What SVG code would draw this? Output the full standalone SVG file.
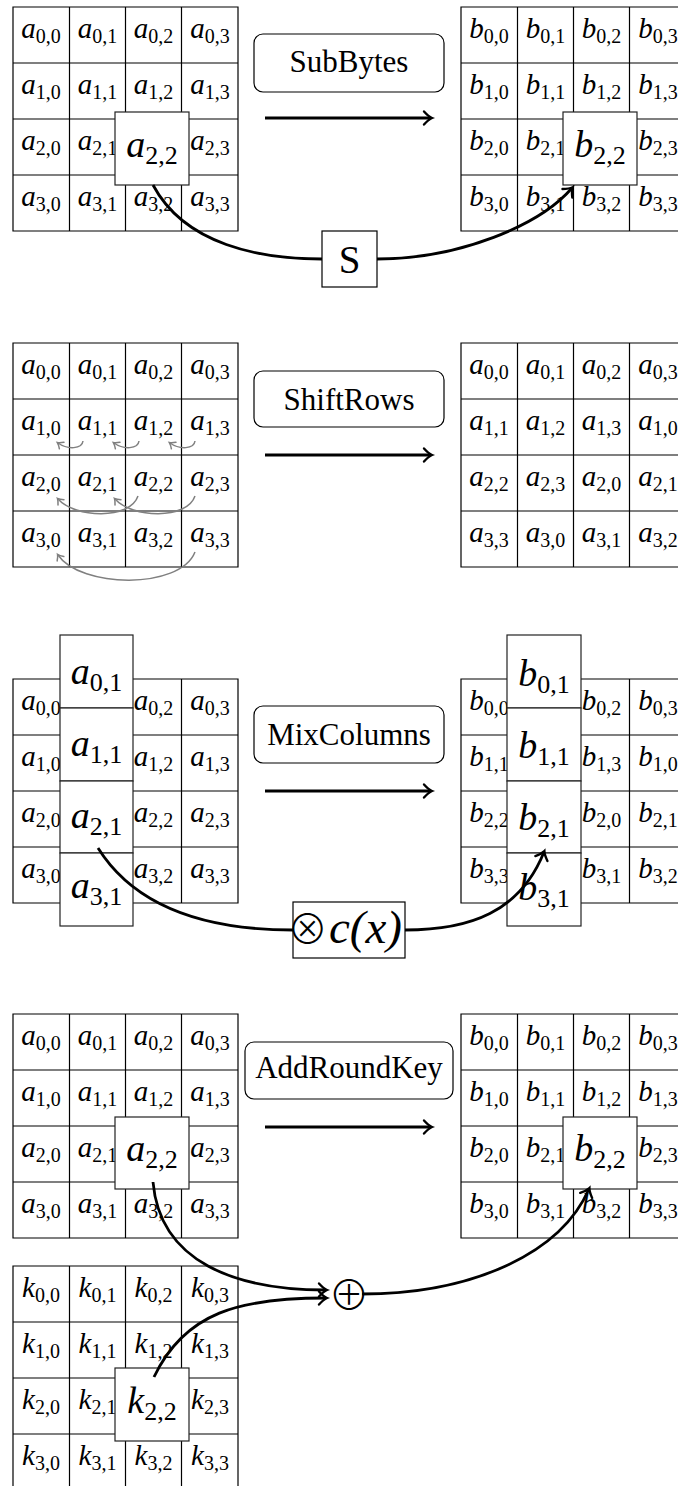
<svg xmlns="http://www.w3.org/2000/svg" xmlns:xlink="http://www.w3.org/1999/xlink" width="678" height="1486" viewBox="0 0 678 1486">
<style>
.g{fill:none;stroke:#000;stroke-width:1.2}
.v{font-family:"Liberation Serif","DejaVu Serif",serif;font-style:italic;font-size:29px;text-anchor:middle;fill:#000}
.v .s{font-style:normal;font-size:20px}
.V{font-family:"Liberation Serif","DejaVu Serif",serif;font-style:italic;font-size:38px;text-anchor:middle;fill:#000}
.V .s{font-style:normal;font-size:26px}
.bx{fill:#fff;stroke:#222;stroke-width:1.2}
.lb{fill:#fff;stroke:#000;stroke-width:1.2}
.lt{font-family:"Liberation Serif","DejaVu Serif",serif;font-size:31px;text-anchor:middle;fill:#000}
.op{font-family:"Noto Sans CJK JP","DejaVu Sans",sans-serif;font-weight:300;text-anchor:middle;fill:#000}
.c{fill:none;stroke:#000;stroke-width:2.8}
.ar{fill:none;stroke:#000;stroke-width:3}
.gr{fill:none;stroke:#808080;stroke-width:1.5}
</style>
<defs>
<path id="grid" d="M0,0H225V224H0Z M56.5,0V224 M112.5,0V224 M168.5,0V224 M0,56H225 M0,112H225 M0,168H225"/>
<marker id="ah" viewBox="-10 -10 20 20" markerWidth="20" markerHeight="20" refX="0" refY="0" orient="auto" markerUnits="userSpaceOnUse" overflow="visible">
<path d="M-7,-6.5 Q-2.5,-1.5 1,0 Q-2.5,1.5 -7,6.5" fill="none" stroke="#000" stroke-width="2.4" stroke-linecap="round"/>
</marker>
<marker id="gh" viewBox="-10 -10 20 20" markerWidth="20" markerHeight="20" refX="0" refY="0" orient="auto" markerUnits="userSpaceOnUse" overflow="visible">
<path d="M-4.5,-4 Q-1.5,-1 0.8,0 Q-1.5,1 -4.5,4" fill="none" stroke="#808080" stroke-width="1.5" stroke-linecap="round"/>
</marker>
</defs>
<rect width="678" height="1486" fill="#fff"/>

<!-- ===== SubBytes ===== -->
<g id="sb-left" transform="translate(13,7)">
<use href="#grid" class="g"/>
<g class="v">
<text x="28" y="30.5">a<tspan class="s" dy="5">0,0</tspan></text>
<text x="84.5" y="30.5">a<tspan class="s" dy="5">0,1</tspan></text>
<text x="140.5" y="30.5">a<tspan class="s" dy="5">0,2</tspan></text>
<text x="197" y="30.5">a<tspan class="s" dy="5">0,3</tspan></text>
<text x="28" y="86.5">a<tspan class="s" dy="5">1,0</tspan></text>
<text x="84.5" y="86.5">a<tspan class="s" dy="5">1,1</tspan></text>
<text x="140.5" y="86.5">a<tspan class="s" dy="5">1,2</tspan></text>
<text x="197" y="86.5">a<tspan class="s" dy="5">1,3</tspan></text>
<text x="28" y="142.5">a<tspan class="s" dy="5">2,0</tspan></text>
<text x="84.5" y="142.5">a<tspan class="s" dy="5">2,1</tspan></text>
<text x="197" y="142.5">a<tspan class="s" dy="5">2,3</tspan></text>
<text x="28" y="198.5">a<tspan class="s" dy="5">3,0</tspan></text>
<text x="84.5" y="198.5">a<tspan class="s" dy="5">3,1</tspan></text>
<text x="140.5" y="198.5">a<tspan class="s" dy="5">3,2</tspan></text>
<text x="197" y="198.5">a<tspan class="s" dy="5">3,3</tspan></text>
</g>
<g id="sb-a22"><rect class="bx" x="102" y="105" width="74" height="73"/>
<text class="V" x="139" y="149.5">a<tspan class="s" dy="7">2,2</tspan></text></g>
</g>
<g id="sb-right" transform="translate(461,7)">
<use href="#grid" class="g"/>
<g class="v">
<text x="28" y="30.5">b<tspan class="s" dy="5">0,0</tspan></text>
<text x="84.5" y="30.5">b<tspan class="s" dy="5">0,1</tspan></text>
<text x="140.5" y="30.5">b<tspan class="s" dy="5">0,2</tspan></text>
<text x="197" y="30.5">b<tspan class="s" dy="5">0,3</tspan></text>
<text x="28" y="86.5">b<tspan class="s" dy="5">1,0</tspan></text>
<text x="84.5" y="86.5">b<tspan class="s" dy="5">1,1</tspan></text>
<text x="140.5" y="86.5">b<tspan class="s" dy="5">1,2</tspan></text>
<text x="197" y="86.5">b<tspan class="s" dy="5">1,3</tspan></text>
<text x="28" y="142.5">b<tspan class="s" dy="5">2,0</tspan></text>
<text x="84.5" y="142.5">b<tspan class="s" dy="5">2,1</tspan></text>
<text x="197" y="142.5">b<tspan class="s" dy="5">2,3</tspan></text>
<text x="28" y="198.5">b<tspan class="s" dy="5">3,0</tspan></text>
<text x="84.5" y="198.5">b<tspan class="s" dy="5">3,1</tspan></text>
<text x="140.5" y="198.5">b<tspan class="s" dy="5">3,2</tspan></text>
<text x="197" y="198.5">b<tspan class="s" dy="5">3,3</tspan></text>
</g>
<g id="sb-b22"><rect class="bx" x="102" y="105" width="74" height="73"/>
<text class="V" x="139" y="149.5">b<tspan class="s" dy="7">2,2</tspan></text></g>
</g>
<g id="sb-label"><rect class="lb" x="254" y="34" width="190" height="58" rx="9"/>
<text class="lt" x="349" y="72">SubBytes</text></g>
<g id="sb-S"><rect class="lb" x="322" y="231" width="55" height="56"/>
<text class="lt" x="349.5" y="273" style="font-size:39px">S</text></g>

<!-- ===== ShiftRows ===== -->
<g id="sr-left" transform="translate(13,343)">
<use href="#grid" class="g"/>
<g class="v">
<text x="28" y="30.5">a<tspan class="s" dy="5">0,0</tspan></text>
<text x="84.5" y="30.5">a<tspan class="s" dy="5">0,1</tspan></text>
<text x="140.5" y="30.5">a<tspan class="s" dy="5">0,2</tspan></text>
<text x="197" y="30.5">a<tspan class="s" dy="5">0,3</tspan></text>
<text x="28" y="86.5">a<tspan class="s" dy="5">1,0</tspan></text>
<text x="84.5" y="86.5">a<tspan class="s" dy="5">1,1</tspan></text>
<text x="140.5" y="86.5">a<tspan class="s" dy="5">1,2</tspan></text>
<text x="197" y="86.5">a<tspan class="s" dy="5">1,3</tspan></text>
<text x="28" y="142.5">a<tspan class="s" dy="5">2,0</tspan></text>
<text x="84.5" y="142.5">a<tspan class="s" dy="5">2,1</tspan></text>
<text x="140.5" y="142.5">a<tspan class="s" dy="5">2,2</tspan></text>
<text x="197" y="142.5">a<tspan class="s" dy="5">2,3</tspan></text>
<text x="28" y="198.5">a<tspan class="s" dy="5">3,0</tspan></text>
<text x="84.5" y="198.5">a<tspan class="s" dy="5">3,1</tspan></text>
<text x="140.5" y="198.5">a<tspan class="s" dy="5">3,2</tspan></text>
<text x="197" y="198.5">a<tspan class="s" dy="5">3,3</tspan></text>
</g>
</g>
<g id="sr-right" transform="translate(461,343)">
<use href="#grid" class="g"/>
<g class="v">
<text x="28" y="30.5">a<tspan class="s" dy="5">0,0</tspan></text>
<text x="84.5" y="30.5">a<tspan class="s" dy="5">0,1</tspan></text>
<text x="140.5" y="30.5">a<tspan class="s" dy="5">0,2</tspan></text>
<text x="197" y="30.5">a<tspan class="s" dy="5">0,3</tspan></text>
<text x="28" y="86.5">a<tspan class="s" dy="5">1,1</tspan></text>
<text x="84.5" y="86.5">a<tspan class="s" dy="5">1,2</tspan></text>
<text x="140.5" y="86.5">a<tspan class="s" dy="5">1,3</tspan></text>
<text x="197" y="86.5">a<tspan class="s" dy="5">1,0</tspan></text>
<text x="28" y="142.5">a<tspan class="s" dy="5">2,2</tspan></text>
<text x="84.5" y="142.5">a<tspan class="s" dy="5">2,3</tspan></text>
<text x="140.5" y="142.5">a<tspan class="s" dy="5">2,0</tspan></text>
<text x="197" y="142.5">a<tspan class="s" dy="5">2,1</tspan></text>
<text x="28" y="198.5">a<tspan class="s" dy="5">3,3</tspan></text>
<text x="84.5" y="198.5">a<tspan class="s" dy="5">3,0</tspan></text>
<text x="140.5" y="198.5">a<tspan class="s" dy="5">3,1</tspan></text>
<text x="197" y="198.5">a<tspan class="s" dy="5">3,2</tspan></text>
</g>
</g>
<g id="sr-label"><rect class="lb" x="254" y="371" width="190" height="56" rx="9"/>
<text class="lt" x="349" y="409.5">ShiftRows</text></g>

<!-- ===== MixColumns ===== -->
<g id="mc-left" transform="translate(13,679)">
<use href="#grid" class="g"/>
<g class="v">
<text x="28" y="30.5">a<tspan class="s" dy="5">0,0</tspan></text>
<text x="140.5" y="30.5">a<tspan class="s" dy="5">0,2</tspan></text>
<text x="197" y="30.5">a<tspan class="s" dy="5">0,3</tspan></text>
<text x="28" y="86.5">a<tspan class="s" dy="5">1,0</tspan></text>
<text x="140.5" y="86.5">a<tspan class="s" dy="5">1,2</tspan></text>
<text x="197" y="86.5">a<tspan class="s" dy="5">1,3</tspan></text>
<text x="28" y="142.5">a<tspan class="s" dy="5">2,0</tspan></text>
<text x="140.5" y="142.5">a<tspan class="s" dy="5">2,2</tspan></text>
<text x="197" y="142.5">a<tspan class="s" dy="5">2,3</tspan></text>
<text x="28" y="198.5">a<tspan class="s" dy="5">3,0</tspan></text>
<text x="140.5" y="198.5">a<tspan class="s" dy="5">3,2</tspan></text>
<text x="197" y="198.5">a<tspan class="s" dy="5">3,3</tspan></text>
</g>
<g id="mc-a01"><rect class="bx" x="47" y="-44" width="73" height="73"/><text class="V" x="83.5" y="5">a<tspan class="s" dy="7">0,1</tspan></text></g>
<g id="mc-a11"><rect class="bx" x="47" y="29" width="73" height="73"/><text class="V" x="83.5" y="77">a<tspan class="s" dy="7">1,1</tspan></text></g>
<g id="mc-a21"><rect class="bx" x="47" y="102" width="73" height="72"/><text class="V" x="83.5" y="149">a<tspan class="s" dy="7">2,1</tspan></text></g>
<g id="mc-a31"><rect class="bx" x="47" y="174" width="73" height="73"/><text class="V" x="83.5" y="219">a<tspan class="s" dy="7">3,1</tspan></text></g>
</g>
<g id="mc-right" transform="translate(461,679)">
<use href="#grid" class="g"/>
<g class="v">
<text x="28" y="30.5">b<tspan class="s" dy="5">0,0</tspan></text>
<text x="140.5" y="30.5">b<tspan class="s" dy="5">0,2</tspan></text>
<text x="197" y="30.5">b<tspan class="s" dy="5">0,3</tspan></text>
<text x="28" y="86.5">b<tspan class="s" dy="5">1,1</tspan></text>
<text x="140.5" y="86.5">b<tspan class="s" dy="5">1,3</tspan></text>
<text x="197" y="86.5">b<tspan class="s" dy="5">1,0</tspan></text>
<text x="28" y="142.5">b<tspan class="s" dy="5">2,2</tspan></text>
<text x="140.5" y="142.5">b<tspan class="s" dy="5">2,0</tspan></text>
<text x="197" y="142.5">b<tspan class="s" dy="5">2,1</tspan></text>
<text x="28" y="198.5">b<tspan class="s" dy="5">3,3</tspan></text>
<text x="140.5" y="198.5">b<tspan class="s" dy="5">3,1</tspan></text>
<text x="197" y="198.5">b<tspan class="s" dy="5">3,2</tspan></text>
</g>
<g id="mc-b01"><rect class="bx" x="46" y="-44" width="74" height="73"/><text class="V" x="83" y="7">b<tspan class="s" dy="7">0,1</tspan></text></g>
<g id="mc-b11"><rect class="bx" x="46" y="29" width="74" height="73"/><text class="V" x="83" y="79">b<tspan class="s" dy="7">1,1</tspan></text></g>
<g id="mc-b21"><rect class="bx" x="46" y="102" width="74" height="72"/><text class="V" x="83" y="151">b<tspan class="s" dy="7">2,1</tspan></text></g>
<g id="mc-b31"><rect class="bx" x="46" y="174" width="74" height="73"/><text class="V" x="83" y="221">b<tspan class="s" dy="7">3,1</tspan></text></g>
</g>
<g id="mc-label"><rect class="lb" x="254" y="706" width="190" height="57" rx="9"/>
<text class="lt" x="349" y="745">MixColumns</text></g>
<g id="mc-op"><rect class="lb" x="293" y="902" width="112" height="56"/>
<text class="op" x="307.5" y="943.5" style="font-size:41px">⊗</text>
<text x="329" y="943" style="font-family:'Liberation Serif',serif;font-style:italic;font-size:47px">c(x)</text></g>

<!-- ===== AddRoundKey ===== -->
<g id="ark-left" transform="translate(13,1014)">
<use href="#grid" class="g"/>
<g class="v">
<text x="28" y="30.5">a<tspan class="s" dy="5">0,0</tspan></text>
<text x="84.5" y="30.5">a<tspan class="s" dy="5">0,1</tspan></text>
<text x="140.5" y="30.5">a<tspan class="s" dy="5">0,2</tspan></text>
<text x="197" y="30.5">a<tspan class="s" dy="5">0,3</tspan></text>
<text x="28" y="86.5">a<tspan class="s" dy="5">1,0</tspan></text>
<text x="84.5" y="86.5">a<tspan class="s" dy="5">1,1</tspan></text>
<text x="140.5" y="86.5">a<tspan class="s" dy="5">1,2</tspan></text>
<text x="197" y="86.5">a<tspan class="s" dy="5">1,3</tspan></text>
<text x="28" y="142.5">a<tspan class="s" dy="5">2,0</tspan></text>
<text x="84.5" y="142.5">a<tspan class="s" dy="5">2,1</tspan></text>
<text x="197" y="142.5">a<tspan class="s" dy="5">2,3</tspan></text>
<text x="28" y="198.5">a<tspan class="s" dy="5">3,0</tspan></text>
<text x="84.5" y="198.5">a<tspan class="s" dy="5">3,1</tspan></text>
<text x="140.5" y="198.5">a<tspan class="s" dy="5">3,2</tspan></text>
<text x="197" y="198.5">a<tspan class="s" dy="5">3,3</tspan></text>
</g>
<g id="ark-a22"><rect class="bx" x="102" y="103" width="74" height="72"/>
<text class="V" x="139" y="147">a<tspan class="s" dy="7">2,2</tspan></text></g>
</g>
<g id="ark-right" transform="translate(461,1014)">
<use href="#grid" class="g"/>
<g class="v">
<text x="28" y="30.5">b<tspan class="s" dy="5">0,0</tspan></text>
<text x="84.5" y="30.5">b<tspan class="s" dy="5">0,1</tspan></text>
<text x="140.5" y="30.5">b<tspan class="s" dy="5">0,2</tspan></text>
<text x="197" y="30.5">b<tspan class="s" dy="5">0,3</tspan></text>
<text x="28" y="86.5">b<tspan class="s" dy="5">1,0</tspan></text>
<text x="84.5" y="86.5">b<tspan class="s" dy="5">1,1</tspan></text>
<text x="140.5" y="86.5">b<tspan class="s" dy="5">1,2</tspan></text>
<text x="197" y="86.5">b<tspan class="s" dy="5">1,3</tspan></text>
<text x="28" y="142.5">b<tspan class="s" dy="5">2,0</tspan></text>
<text x="84.5" y="142.5">b<tspan class="s" dy="5">2,1</tspan></text>
<text x="197" y="142.5">b<tspan class="s" dy="5">2,3</tspan></text>
<text x="28" y="198.5">b<tspan class="s" dy="5">3,0</tspan></text>
<text x="84.5" y="198.5">b<tspan class="s" dy="5">3,1</tspan></text>
<text x="140.5" y="198.5">b<tspan class="s" dy="5">3,2</tspan></text>
<text x="197" y="198.5">b<tspan class="s" dy="5">3,3</tspan></text>
</g>
<g id="ark-b22"><rect class="bx" x="102" y="103" width="74" height="72"/>
<text class="V" x="139" y="147">b<tspan class="s" dy="7">2,2</tspan></text></g>
</g>
<g id="key" transform="translate(13,1266)">
<use href="#grid" class="g"/>
<g class="v">
<text x="28" y="30.5">k<tspan class="s" dy="5">0,0</tspan></text>
<text x="84.5" y="30.5">k<tspan class="s" dy="5">0,1</tspan></text>
<text x="140.5" y="30.5">k<tspan class="s" dy="5">0,2</tspan></text>
<text x="197" y="30.5">k<tspan class="s" dy="5">0,3</tspan></text>
<text x="28" y="86.5">k<tspan class="s" dy="5">1,0</tspan></text>
<text x="84.5" y="86.5">k<tspan class="s" dy="5">1,1</tspan></text>
<text x="140.5" y="86.5">k<tspan class="s" dy="5">1,2</tspan></text>
<text x="197" y="86.5">k<tspan class="s" dy="5">1,3</tspan></text>
<text x="28" y="142.5">k<tspan class="s" dy="5">2,0</tspan></text>
<text x="84.5" y="142.5">k<tspan class="s" dy="5">2,1</tspan></text>
<text x="197" y="142.5">k<tspan class="s" dy="5">2,3</tspan></text>
<text x="28" y="198.5">k<tspan class="s" dy="5">3,0</tspan></text>
<text x="84.5" y="198.5">k<tspan class="s" dy="5">3,1</tspan></text>
<text x="140.5" y="198.5">k<tspan class="s" dy="5">3,2</tspan></text>
<text x="197" y="198.5">k<tspan class="s" dy="5">3,3</tspan></text>
</g>
<g id="key-k22"><rect class="bx" x="102" y="102" width="74" height="73"/>
<text class="V" x="139" y="146.5">k<tspan class="s" dy="7">2,2</tspan></text></g>
</g>
<g id="ark-label"><rect class="lb" x="245" y="1042" width="208" height="57" rx="9"/>
<text class="lt" x="349" y="1078">AddRoundKey</text></g>
<g id="xor"><text class="op" x="349" y="1309.5" style="font-size:41px">⊕</text></g>

<!-- ===== connectors ===== -->
<g id="connectors">
<path class="ar" d="M265,118H431" marker-end="url(#ah)"/>
<path class="ar" d="M265,455H431" marker-end="url(#ah)"/>
<path class="ar" d="M265,791H431" marker-end="url(#ah)"/>
<path class="ar" d="M265,1127H431" marker-end="url(#ah)"/>
<path class="c" d="M153,185 C185,245 260,259 322,259"/>
<path class="c" d="M377,259 C460,259 540,225 572,188" marker-end="url(#ah)"/>
<path class="gr" d="M83,441 C82,449 68,450 58,443" marker-end="url(#gh)"/>
<path class="gr" d="M139,441 C138,449 124,450 114,443" marker-end="url(#gh)"/>
<path class="gr" d="M195,441 C194,449 180,450 170,443" marker-end="url(#gh)"/>
<path class="gr" d="M138,496 C130,520 75,518 58,499" marker-end="url(#gh)"/>
<path class="gr" d="M195,496 C187,520 132,518 115,499" marker-end="url(#gh)"/>
<path class="gr" d="M195,552 C180,590 80,588 58,555" marker-end="url(#gh)"/>
<path class="c" d="M98,848 C140,915 220,930 293,930"/>
<path class="c" d="M405,930 C470,930 520,912 544,852" marker-end="url(#ah)"/>
<path class="c" d="M153,1182 C160,1262 235,1290 326,1290" marker-end="url(#ah)"/>
<path class="c" d="M154,1377 C185,1312 240,1298 326,1298" marker-end="url(#ah)"/>
<path class="c" d="M362,1294 C470,1294 560,1255 589,1189" marker-end="url(#ah)"/>
</g>
</svg>
